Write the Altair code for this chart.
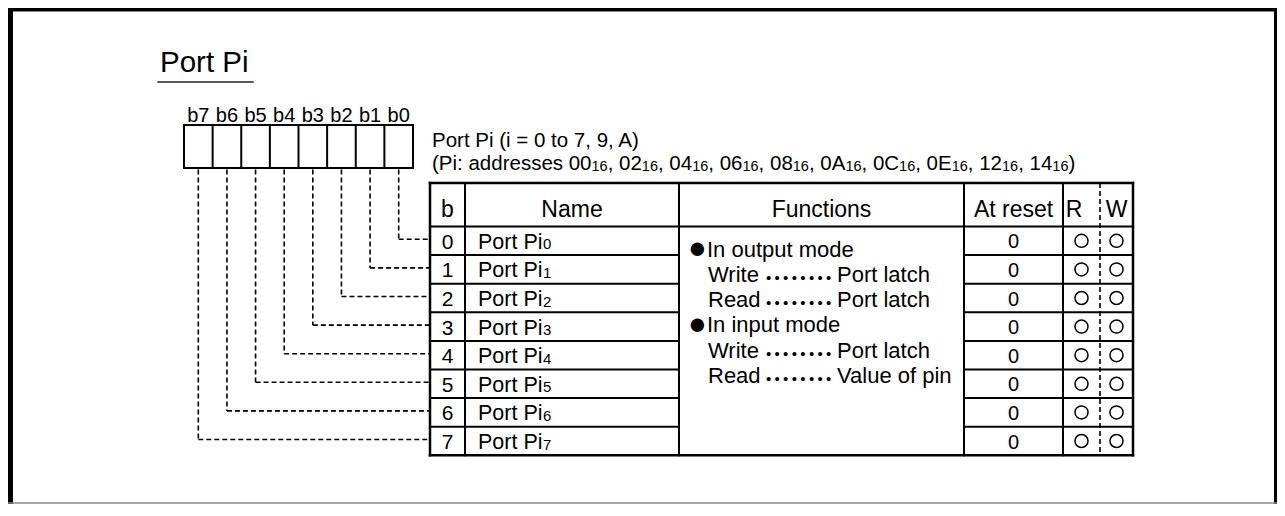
import altair as alt
import pandas as pd

# ---------------- data ----------------
title = "Port Pi"
bit_labels = ["b7", "b6", "b5", "b4", "b3", "b2", "b1", "b0"]
bit_numbers = [0, 1, 2, 3, 4, 5, 6, 7]
name_base = "Port Pi"
name_subs = ["0", "1", "2", "3", "4", "5", "6", "7"]
reset_values = ["0", "0", "0", "0", "0", "0", "0", "0"]
readable = [True] * 8
writable = [True] * 8
headers = ["b", "Name", "Functions", "At reset", "R", "W"]
desc_line1 = "Port Pi (i = 0 to 7, 9, A)"
desc_prefix = "(Pi: addresses "
addresses = ["00", "02", "04", "06", "08", "0A", "0C", "0E", "12", "14"]
addr_sub = "16"
bullet = "\u25cf"
func_heads = ["In output mode", "In input mode"]
func_ops = [("Write", "Port latch"), ("Read", "Port latch"),
            ("Write", "Port latch"), ("Read", "Value of pin")]
leader_dot = "\u2022"
leader_count = 8

# ---------------- layout ----------------
FONT = "Liberation Sans, Arial, Helvetica, sans-serif"
W_ARIAL = {' ': 278, '(': 333, ')': 333, ',': 278, ':': 278, '=': 584,
           'A': 667, 'C': 722, 'E': 667, 'P': 667, 'a': 556, 'd': 556,
           'e': 556, 'i': 222, 'o': 556, 'r': 333, 's': 500, 't': 278}
for _d in "0123456789":
    W_ARIAL[_d] = 556


def tw(s, fs):
    return sum(W_ARIAL.get(ch, 556) for ch in s) * fs / 1000.0


solid, dashed, fills, tleft, tcenter, pts = [], [], [], [], [], []


def rule(x, x2, y, y2, w=2.0, c="black"):
    solid.append(dict(x=x, x2=x2, y=y, y2=y2, w=w, c=c))


XR, YB = 1277, 504

# frame
fills.append(dict(x=8, x2=13, y=8, y2=YB, c="black"))
fills.append(dict(x=8, x2=XR, y=8, y2=11.5, c="black"))
fills.append(dict(x=XR - 3, x2=XR, y=8, y2=YB, c="black"))
rule(8, XR, YB - 1, YB - 1, 1.5, "#888888")

# title
tleft.append(dict(x=160, y=72, t=title, s=29.5))
rule(158, 253, 82, 82, 1.5, "#222222")

# register boxes
bx0, bw, by0, by1 = 184.0, 28.625, 125.0, 168.0
for k, lab in enumerate(bit_labels):
    tcenter.append(dict(x=bx0 + (k + 0.5) * bw, y=122, t=lab, s=20))
for k in range(len(bit_labels) + 1):
    rule(bx0 + k * bw, bx0 + k * bw, by0, by1)
rule(bx0, bx0 + 8 * bw, by0, by0)
rule(bx0, bx0 + 8 * bw, by1, by1)

# table geometry
cols = [430, 465, 679, 964, 1063, 1100, 1133]
t_top, h_bot, row_h = 183.0, 226.5, 28.6
n = len(bit_numbers)
t_bot = h_bot + n * row_h


def rc(i):
    return h_bot + (i + 0.5) * row_h


# connectors
for i in bit_numbers:
    cx = bx0 + (7 - i + 0.5) * bw
    dashed.append(dict(x=cx, x2=cx, y=by1 + 1.5, y2=rc(i) - 1.5))
    dashed.append(dict(x=cx, x2=cols[0], y=rc(i) - 1.5, y2=rc(i) - 1.5))

# description
DS, SS = 20.5, 14.5
tleft.append(dict(x=432, y=147, t=desc_line1, s=DS))
xx = 432.0
seg = desc_prefix
for j, a in enumerate(addresses):
    seg += a
    tleft.append(dict(x=xx, y=170, t=seg, s=DS))
    xx += tw(seg, DS)
    tleft.append(dict(x=xx, y=171, t=addr_sub, s=SS))
    xx += tw(addr_sub, SS)
    seg = ", " if j < len(addresses) - 1 else ")"
tleft.append(dict(x=xx, y=170, t=seg, s=DS))

# table lines
rule(cols[0], cols[-1], t_top, t_top, 2.5)
rule(cols[0], cols[-1], t_bot, t_bot, 2.5)
rule(cols[0], cols[-1], h_bot, h_bot, 2.2)
rule(cols[0], cols[0], t_top, t_bot, 2.5)
rule(cols[-1], cols[-1], t_top, t_bot, 2.5)
for c in cols[1:5]:
    rule(c, c, t_top, t_bot, 2.0)
for k in range(1, n):
    y = h_bot + k * row_h
    rule(cols[0], cols[2], y, y, 2.0)
    rule(cols[3], cols[-1], y, y, 2.0)
dashed.append(dict(x=cols[5], x2=cols[5], y=t_top, y2=t_bot))

# headers
hx = [(cols[0] + cols[1]) / 2, (cols[1] + cols[2]) / 2, (cols[2] + cols[3]) / 2,
      (cols[3] + cols[4]) / 2, cols[4] + 11, (cols[5] + cols[6]) / 2]
for hxi, h in zip(hx, headers):
    tcenter.append(dict(x=hxi, y=217, t=h, s=23))

# rows
for i in bit_numbers:
    yb = rc(i) + 8
    tcenter.append(dict(x=(cols[0] + cols[1]) / 2, y=yb, t=str(i), s=21))
    tleft.append(dict(x=478, y=yb, t=name_base, s=21.5))
    tleft.append(dict(x=478 + tw(name_base, 21.5) + 0.5, y=yb + 0.5, t=name_subs[i], s=15))
    tcenter.append(dict(x=(cols[3] + cols[4]) / 2, y=rc(i) + 7.5, t=reset_values[i], s=20))
    if readable[i]:
        pts.append(dict(x=(cols[4] + cols[5]) / 2, y=rc(i)))
    if writable[i]:
        pts.append(dict(x=(cols[5] + cols[6]) / 2, y=rc(i)))

# functions
lines = [("head", func_heads[0]), ("op", func_ops[0]), ("op", func_ops[1]),
         ("head", func_heads[1]), ("op", func_ops[2]), ("op", func_ops[3])]
fb0, fstep = 256.8, 25.2
lead_x0, lead_pitch = 768.5, 8.6
for k, (kind, v) in enumerate(lines):
    yb = fb0 + k * fstep
    if kind == "head":
        tleft.append(dict(x=688, y=yb + 1.5, t=bullet, s=31))
        tleft.append(dict(x=707, y=yb, t=v, s=22))
    else:
        tleft.append(dict(x=708, y=yb, t=v[0], s=22))
        for d in range(leader_count):
            tcenter.append(dict(x=lead_x0 + d * lead_pitch, y=yb + 1.0,
                                t=leader_dot, s=15))
        tleft.append(dict(x=837, y=yb, t=v[1], s=22))

# ---------------- chart ----------------
xs = alt.Scale(domain=[8, XR], nice=False, zero=False)
ys = alt.Scale(domain=[8, YB], reverse=True, nice=False, zero=False)


def X():
    return alt.X("x:Q", scale=xs, axis=None)


def Y():
    return alt.Y("y:Q", scale=ys, axis=None)


fill_layer = alt.Chart(pd.DataFrame(fills)).mark_rect().encode(
    x=X(), x2="x2:Q", y=Y(), y2="y2:Q", color=alt.Color("c:N", scale=None))

solid_layer = alt.Chart(pd.DataFrame(solid)).mark_rule(strokeCap="square").encode(
    x=X(), x2="x2:Q", y=Y(), y2="y2:Q",
    color=alt.Color("c:N", scale=None),
    strokeWidth=alt.StrokeWidth("w:Q", scale=None))

dash_layer = alt.Chart(pd.DataFrame(dashed)).mark_rule(
    color="black", strokeWidth=1.6, strokeDash=[5, 3]).encode(
    x=X(), x2="x2:Q", y=Y(), y2="y2:Q")

left_layer = alt.Chart(pd.DataFrame(tleft)).mark_text(
    align="left", baseline="alphabetic", font=FONT, color="black").encode(
    x=X(), y=Y(), text="t:N", size=alt.Size("s:Q", scale=None))

center_layer = alt.Chart(pd.DataFrame(tcenter)).mark_text(
    align="center", baseline="alphabetic", font=FONT, color="black").encode(
    x=X(), y=Y(), text="t:N", size=alt.Size("s:Q", scale=None))

pt_layer = alt.Chart(pd.DataFrame(pts)).mark_point(
    shape="circle", filled=False, size=170, strokeWidth=1.5, color="black",
    opacity=1).encode(x=X(), y=Y())

chart = alt.layer(fill_layer, dash_layer, solid_layer, left_layer,
                  center_layer, pt_layer).properties(
    width=XR - 8, height=YB - 8, padding=0, autosize="none"
).configure_view(strokeWidth=0)

chart.save("out.html", embed_options={"renderer": "svg", "actions": False})
